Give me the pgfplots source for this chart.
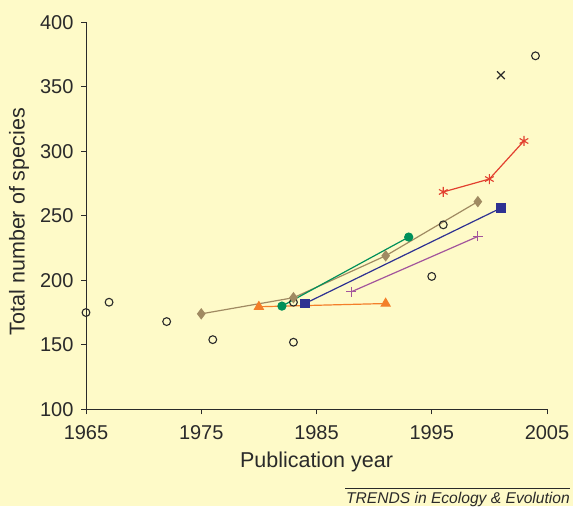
\documentclass[border=0pt]{standalone}
\usepackage{fontspec}
\setmainfont{Liberation Sans}
\usepackage{pgfplots}
\pgfplotsset{compat=1.18}
\definecolor{bgyel}{HTML}{FEFAC8}
\definecolor{cred}{HTML}{E2402F}
\definecolor{cbrown}{HTML}{A08A62}
\definecolor{cgreen}{HTML}{00905A}
\definecolor{cblue}{HTML}{2E3192}
\definecolor{corange}{HTML}{F37F2A}
\definecolor{cpurple}{HTML}{A3559C}
\definecolor{txt}{HTML}{2A2A2A}
\begin{document}
\begin{tikzpicture}
\fill[bgyel] (-86bp,-96.7bp) rectangle (487bp,409.3bp);
\begin{axis}[
  at={(0,0)}, anchor=south west,
  scale only axis, width=461bp, height=387bp,
  xmin=1965, xmax=2005, ymin=100, ymax=400,
  xtick={1965,1975,1985,1995,2005},
  ytick={100,150,...,400},
  axis x line*=bottom, axis y line*=left,
  axis line style={-, txt, line width=0.9bp},
  tick align=outside, major tick length=5bp,
  tick style={txt, line width=0.9bp},
  /pgf/number format/assume math mode=true,
  x tick label style={/pgf/number format/1000 sep={}, yshift=-8bp},
  y tick label style={xshift=-4bp},
  tick label style={font=\fontsize{20bp}{23bp}\selectfont, text=txt},
  label style={font=\fontsize{21.5bp}{24bp}\selectfont, text=txt},
  xlabel={Publication year},
  ylabel={Total number of species},
  xlabel style={at={(0.5,0)}, anchor=center, yshift=-53bp},
  ylabel style={at={(axis description cs:-0.145,0.485)}, anchor=center},
  clip=false,
  every axis plot/.append style={line width=1.2bp},
]
% open circles
\addplot[only marks, mark=o, mark size=3.9bp, mark options={txt, line width=1.1bp}] coordinates {
(1965,175) (1967,183) (1972,168) (1976,154) (1983,183) (1983,152) (1996,243) (1995,203) (2004,374)
};
% cross
\addplot[only marks, mark=x, mark size=5.5bp, mark options={txt, line width=1.2bp}] coordinates {(2001,359)};
% red asterisks
\addplot[cred, mark=asterisk, mark size=5bp, mark options={line width=1.1bp}] coordinates {(1996,268.5) (2000,278.5) (2003,308)};
% brown diamonds
\addplot[cbrown, mark=diamond*, mark size=4.8bp] coordinates {(1975,174) (1983,186.5) (1991,219) (1999,261)};
% green
\addplot[cgreen, mark=*, mark size=4bp] coordinates {(1982,180) (1993,233.5)};
% blue squares
\addplot[cblue, mark=square*, mark size=4.3bp] coordinates {(1984,182) (2001,256)};
% orange triangles
\addplot[corange, mark=triangle*, mark size=5bp] coordinates {(1980,179.5) (1991,182)};
% purple plus
\addplot[cpurple, mark=+, mark size=5bp, mark options={line width=1.1bp}] coordinates {(1988,191) (1999,234)};
\end{axis}
\draw[txt, line width=0.8bp] (259bp,-79bp) -- (484bp,-79bp);
\node[anchor=base east, inner sep=0pt, text=txt, font=\fontsize{15.6bp}{18bp}\selectfont\itshape] at (484bp,-94bp) {TRENDS in Ecology \& Evolution};
\end{tikzpicture}
\end{document}
